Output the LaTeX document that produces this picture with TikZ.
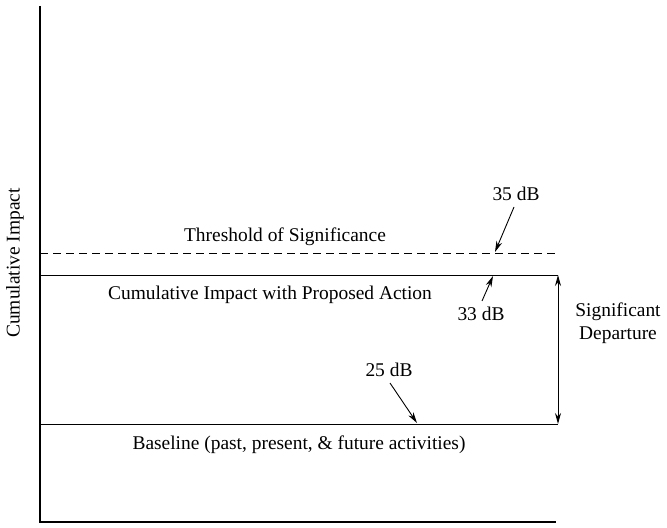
\documentclass[tikz,border=0pt]{standalone}
\usepackage{fontspec}
\setmainfont{Liberation Serif}
\usetikzlibrary{arrows.meta}
\begin{document}
\begin{tikzpicture}[x=1bp,y=-1bp,
  axisline/.style={line width=1.1bp},
  levelline/.style={line width=1bp},
  pointer/.style={line width=0.9bp,-{Stealth[length=11bp,width=6bp]}},
  span/.style={line width=1bp,{Stealth[length=11bp,width=6bp]}-{Stealth[length=11bp,width=6bp]}},
  lbl/.style={font=\fontsize{19.5}{23}\selectfont, inner sep=0pt},
]
\useasboundingbox (0,0) rectangle (667,528);

% axes
\coordinate (origin) at (40,522);
\coordinate (ytop) at (40,6);
\coordinate (xend) at (556,522);
\draw[axisline] (ytop) -- (origin) -- (xend);
\node[lbl, rotate=90] (ylabel) at (15,263) {Cumulative Impact};

% level lines
\coordinate (thrL) at (40,253);
\coordinate (thrR) at (555,253);
\coordinate (propL) at (40,275);
\coordinate (propR) at (558,275);
\coordinate (baseL) at (40,424);
\coordinate (baseR) at (558,424);
\draw[levelline, dash pattern=on 8bp off 5bp] (thrL) -- (thrR);
\draw[levelline] (propL) -- (propR);
\draw[levelline] (baseL) -- (baseR);

% line captions
\node[lbl] (thr) at (285,237) {Threshold of Significance};
\node[lbl] (prop) at (270,295) {Cumulative Impact with Proposed Action};
\node[lbl] (base) at (299,445) {Baseline (past, present, \& future activities)};

% decibel markers
\node[lbl] (db35) at (516,194) {35 dB};
\coordinate (p35) at (495,252);
\draw[pointer] (514,207) -- (p35);

\node[lbl] (db33) at (481,314) {33 dB};
\coordinate (p33) at (493,276);
\draw[pointer] (482,301) -- (p33);

\node[lbl] (db25) at (389,370) {25 dB};
\coordinate (p25) at (417,423);
\draw[pointer] (390,383) -- (p25);

% significant departure span
\coordinate (spanTop) at (558,275);
\coordinate (spanBot) at (558,424);
\draw[span] (spanTop) -- (spanBot);
\node[lbl, align=center] (dep) at (618,323) {Significant\\Departure};
\end{tikzpicture}
\end{document}
